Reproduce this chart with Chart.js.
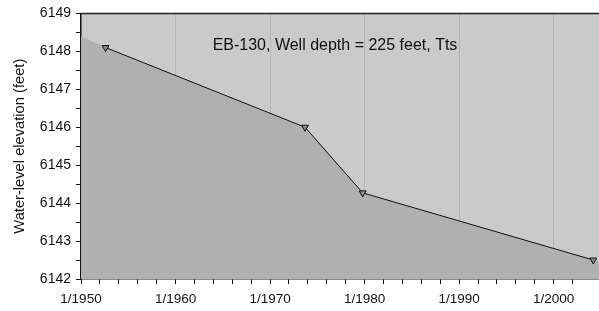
<!DOCTYPE html>
<html>
<head>
<meta charset="utf-8">
<script src="https://cdn.jsdelivr.net/npm/chart.js@4/dist/chart.umd.min.js"></script>
<style>
  html, body { margin: 0; padding: 0; background: #fff; }
</style>
</head>
<body>
<canvas id="wellChart" width="599" height="311"></canvas>
<script>
// measured water levels (decimal year, feet)
const years = [1952.6, 1973.7, 1979.8, 2004.2];
const levels = [6148.1, 6146.0, 6144.27, 6142.5];

// shaded area boundary as drawn, runs edge to edge
const fillYears = [1950, 1952.6, 1973.7, 1979.8, 2004.2, 2004.8];
const fillLevels = [6148.4, 6148.1, 6146.0, 6144.27, 6142.5, 6142.46];

const xMin = 1950, xMax = 2004.8;
const yMin = 6142, yMax = 6149;
const titleText = 'EB-130, Well depth = 225 feet, Tts';
const fontFam = '"Liberation Sans", Arial, sans-serif';

const plotBg = {
    id: 'plotBg',
    beforeDraw: function (chart) {
        const a = chart.chartArea;
        const c = chart.ctx;
        c.save();
        c.fillStyle = '#cacaca';
        c.fillRect(a.left, a.top, a.right - a.left, a.bottom - a.top);
        c.restore();
    },
    afterDraw: function (chart) {
        const a = chart.chartArea;
        const c = chart.ctx;
        c.save();
        c.strokeStyle = '#222';
        c.lineWidth = 1.5;
        c.beginPath();
        c.moveTo(a.left, a.top);
        c.lineTo(a.right, a.top);
        c.stroke();
        c.fillStyle = '#111';
        c.font = '16px ' + fontFam;
        c.textAlign = 'center';
        c.textBaseline = 'middle';
        c.fillText(titleText, 335, 46);
        c.restore();
    }
};

new Chart(document.getElementById('wellChart').getContext('2d'), {
    type: 'line',
    data: {
        datasets: [{
            label: 'fill',
            order: 2,
            data: fillYears.map((x, i) => ({ x: x, y: fillLevels[i] })),
            borderWidth: 0,
            borderColor: 'rgba(0,0,0,0)',
            backgroundColor: '#b0b0b0',
            fill: 'start',
            pointRadius: 0,
            tension: 0
        }, {
            label: 'Water level',
            order: 1,
            data: years.map((x, i) => ({ x: x, y: levels[i] })),
            borderColor: '#111',
            borderWidth: 1,
            fill: false,
            pointStyle: 'triangle',
            pointRotation: 180,
            pointRadius: 4,
            pointBackgroundColor: '#8a8a8a',
            pointBorderColor: '#111',
            pointBorderWidth: 1,
            tension: 0
        }]
    },
    options: {
        responsive: false,
        animation: false,
        devicePixelRatio: 1,
        layout: { autoPadding: false, padding: { top: 13, right: 0, left: 0, bottom: 0 } },
        plugins: {
            legend: { display: false },
            tooltip: { enabled: false }
        },
        scales: {
            x: {
                type: 'linear',
                min: xMin,
                max: xMax,
                afterBuildTicks: function (scale) {
                    scale.ticks = scale.ticks.filter(t => Number.isInteger(t.value) && t.value % 2 === 0);
                },
                afterFit: function (scale) {
                    scale.height = 32;
                    scale.paddingLeft = 0;
                    scale.paddingRight = 0;
                },
                ticks: {
                    stepSize: 2,
                    autoSkip: false,
                    maxRotation: 0,
                    padding: 7,
                    color: '#111',
                    font: { family: fontFam, size: 13.5 },
                    callback: function (v) { return v % 10 === 0 ? '1/' + v : ''; }
                },
                grid: {
                    color: function (ctx) {
                        const v = ctx.tick && ctx.tick.value;
                        return (v % 10 === 0 && v !== xMin) ? '#b6b6b6' : 'rgba(0,0,0,0)';
                    },
                    tickColor: '#111',
                    tickLength: 5,
                    lineWidth: 1
                },
                border: { color: '#111', width: 1.5 }
            },
            y: {
                min: yMin,
                max: yMax,
                afterFit: function (scale) { scale.width = 81; },
                ticks: {
                    stepSize: 0.5,
                    autoSkip: false,
                    padding: 5,
                    color: '#111',
                    font: { family: fontFam, size: 14 },
                    callback: function (v) { return Number.isInteger(v) ? String(v) : ''; }
                },
                grid: {
                    color: 'rgba(0,0,0,0)',
                    tickColor: '#111',
                    tickLength: 5
                },
                border: { color: '#111', width: 1.5 },
                title: {
                    display: true,
                    text: 'Water-level elevation (feet)',
                    color: '#111',
                    padding: { top: 11, bottom: 4 },
                    font: { family: fontFam, size: 14.7 }
                }
            }
        }
    },
    plugins: [plotBg]
});
</script>
</body>
</html>
